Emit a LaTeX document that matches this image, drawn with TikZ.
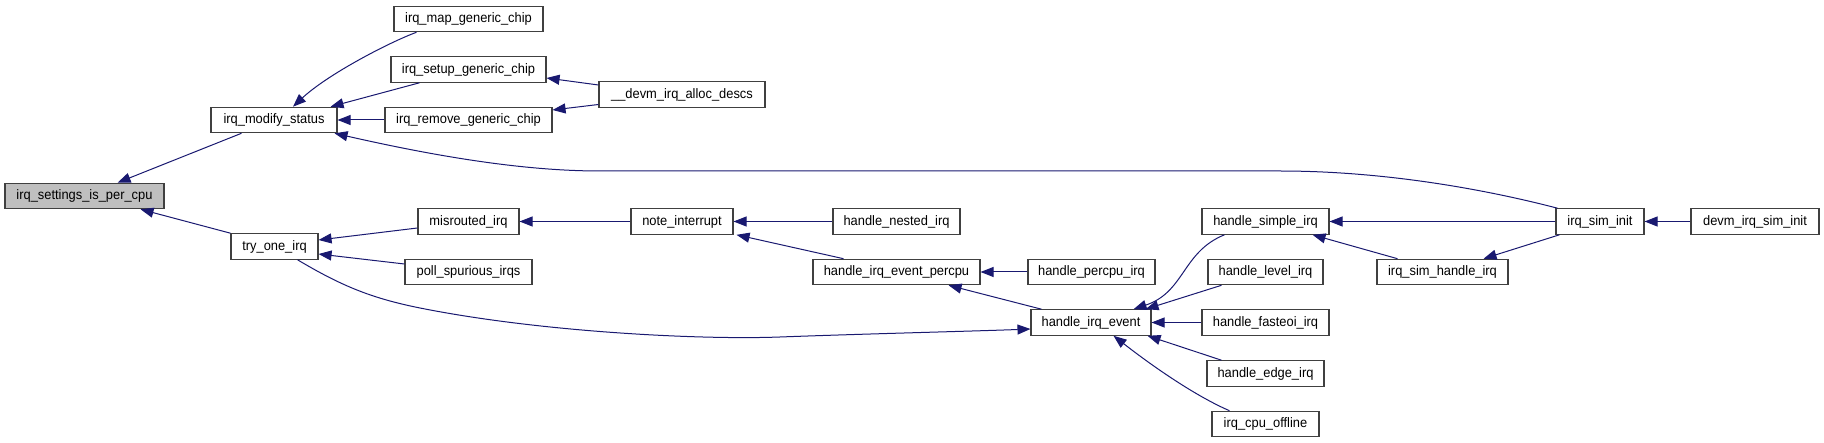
\documentclass[tikz,border=0pt]{standalone}
\usepackage{fontspec}
\setmainfont{Liberation Sans}[FakeStretch=0.94]
\usetikzlibrary{arrows.meta}
\definecolor{edgeblue}{HTML}{191970}
\definecolor{boxline}{HTML}{404040}
\definecolor{rootfill}{HTML}{BFBFBF}
\begin{document}
\begin{tikzpicture}[x=1pt,y=-1pt,
  fn/.style={draw=boxline,line width=1.1pt,fill=white,inner sep=0pt,minimum height=25.5pt,
    font=\fontsize{13.7}{16}\selectfont,text=black},
  rootfn/.style={fn,fill=rootfill},
  edge/.style={draw=edgeblue,line width=1pt,-{Triangle[length=13pt,width=10pt]}}]
\useasboundingbox (0,0) rectangle (1824,443);
% nodes
\node[rootfn,minimum width=159pt] (set) at (84.5,196) {irq\_settings\_is\_per\_cpu};
\node[fn,minimum width=126pt] (mod) at (274,120) {irq\_modify\_status};
\node[fn,minimum width=87pt] (try) at (274.5,246.5) {try\_one\_irq};
\node[fn,minimum width=149pt] (map) at (468.5,19) {irq\_map\_generic\_chip};
\node[fn,minimum width=155pt] (setup) at (468.5,69.5) {irq\_setup\_generic\_chip};
\node[fn,minimum width=167pt] (remove) at (468.5,120) {irq\_remove\_generic\_chip};
\node[fn,minimum width=166pt] (devm) at (682,94.5) {\_\_devm\_irq\_alloc\_descs};
\node[fn,minimum width=101pt] (misrouted) at (468.5,221.5) {misrouted\_irq};
\node[fn,minimum width=127pt] (poll) at (468.5,272) {poll\_spurious\_irqs};
\node[fn,minimum width=102pt] (note) at (682,221.5) {note\_interrupt};
\node[fn,minimum width=127pt] (nested) at (896.5,221.5) {handle\_nested\_irq};
\node[fn,minimum width=167pt] (percpu) at (896.5,272) {handle\_irq\_event\_percpu};
\node[fn,minimum width=127pt] (hpercpu) at (1091.5,272) {handle\_percpu\_irq};
\node[fn,minimum width=120pt] (hie) at (1091,322.5) {handle\_irq\_event};
\node[fn,minimum width=127pt] (simple) at (1265.5,221.5) {handle\_simple\_irq};
\node[fn,minimum width=115pt] (level) at (1265.5,272) {handle\_level\_irq};
\node[fn,minimum width=127pt] (fasteoi) at (1265.5,322.5) {handle\_fasteoi\_irq};
\node[fn,minimum width=117pt] (edge) at (1265.5,373.5) {handle\_edge\_irq};
\node[fn,minimum width=107pt] (offline) at (1265.5,424) {irq\_cpu\_offline};
\node[fn,minimum width=131pt] (simhandle) at (1442.5,272) {irq\_sim\_handle\_irq};
\node[fn,minimum width=88pt] (siminit) at (1600,221.5) {irq\_sim\_init};
\node[fn,minimum width=128pt] (devmsim) at (1755,221.5) {devm\_irq\_sim\_init};
% edges (arrow at callee side)
\draw[edge] ([xshift=31pt]mod.south west) -- ([xshift=-47pt]set.north east);
\draw[edge] (try.north west) -- ([xshift=-24pt]set.south east);
\draw[edge] ([xshift=23pt]map.south west) .. controls (390,42) and (328,74) .. ([xshift=19pt]mod.north);
\draw[edge] ([xshift=29pt]setup.south west) -- ([xshift=-7pt]mod.north east);
\draw[edge] (remove.west) -- (mod.east);
\draw[edge] ([xshift=2pt]siminit.north west) .. controls (1480,188) and (1380,171) .. (1280,171)
  -- (600,171) .. controls (520,171) and (430,155) .. ([xshift=-3pt]mod.south east);
\draw[edge] ([yshift=9.5pt]devm.west) -- ([yshift=-8.5pt]setup.east);
\draw[edge] ([yshift=-10pt]devm.west) -- ([yshift=10pt]remove.east);
\draw[edge] ([yshift=-6.5pt]misrouted.west) -- ([yshift=6.5pt]try.east);
\draw[edge] ([yshift=8pt]poll.west) -- ([yshift=-7.5pt]try.east);
\draw[edge] ([xshift=-21pt]try.south east) .. controls (340,285) and (370,298) .. (420,308)
  .. controls (540,332) and (700,340) .. (780,337)
  .. controls (860,334) and (980,331) .. ([yshift=-6.5pt]hie.west);
\draw[edge] (note.west) -- (misrouted.east);
\draw[edge] (nested.west) -- (note.east);
\draw[edge] ([xshift=-53pt]percpu.north) -- ([xshift=3pt]note.south east);
\draw[edge] (hpercpu.west) -- (percpu.east);
\draw[edge] ([xshift=11pt]hie.north west) -- ([xshift=-32pt]percpu.south east);
\draw[edge] ([xshift=23pt]simple.south west) .. controls (1182,252) and (1185,292) .. ([xshift=-18pt]hie.north east);
\draw[edge] ([xshift=14pt]level.south west) -- ([xshift=-6pt]hie.north east);
\draw[edge] (fasteoi.west) -- (hie.east);
\draw[edge] ([xshift=15pt]edge.north west) -- ([xshift=-4pt]hie.south east);
\draw[edge] ([xshift=18pt]offline.north west) .. controls (1200,398) and (1160,372) .. ([xshift=-38pt]hie.south east);
\draw[edge] (siminit.west) -- (simple.east);
\draw[edge] ([xshift=21pt]simhandle.north west) -- ([xshift=-17pt]simple.south east);
\draw[edge] ([xshift=4pt]siminit.south west) -- ([xshift=-25pt]simhandle.north east);
\draw[edge] (devmsim.west) -- (siminit.east);
\end{tikzpicture}
\end{document}
